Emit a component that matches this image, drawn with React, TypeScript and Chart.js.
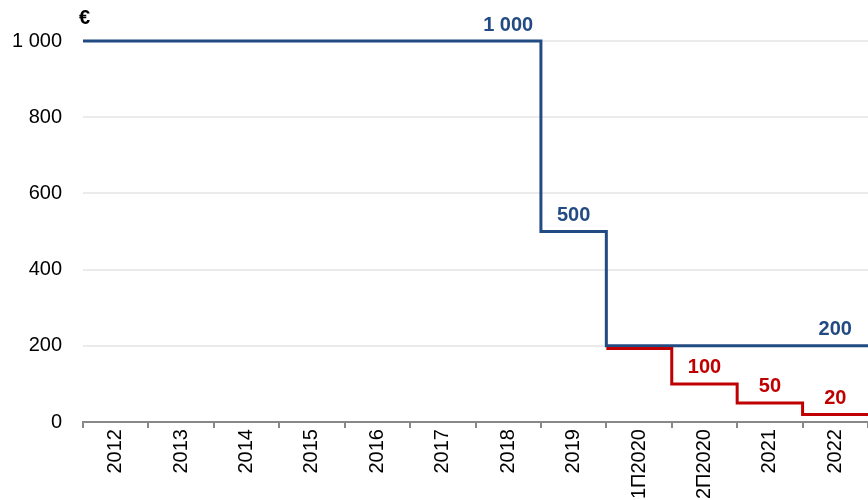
import React, { useEffect, useRef } from "react";
import { Chart, registerables } from "chart.js";

Chart.register(...registerables);

const categories = ["2012", "2013", "2014", "2015", "2016", "2017", "2018", "2019", "1П2020", "2П2020", "2021", "2022"];
const blueValues: (number | null)[] = [1000, 1000, 1000, 1000, 1000, 1000, 1000, 500, 200, 200, 200, 200];
const redValues: (number | null)[] = [null, null, null, null, null, null, null, null, 193, 100, 50, 20];
const blueLabels: (string | null)[] = [null, null, null, null, null, null, "1 000", "500", null, null, null, "200"];
const redLabels: (string | null)[] = [null, null, null, null, null, null, null, null, null, "100", "50", "20"];
const yTicks = [0, 200, 400, 600, 800, 1000];

const BLUE = "#234b83";
const RED = "#c00000";
const FONT = "'Liberation Sans', Arial, sans-serif";

function stepPoints(values: (number | null)[]) {
  const pts: { x: number; y: number }[] = [];
  let last: number | null = null;
  values.forEach((v, i) => {
    if (v !== null) {
      pts.push({ x: i, y: v });
      last = v;
    }
  });
  if (last !== null) pts.push({ x: values.length, y: last });
  return pts;
}

const fmt = (v: number) => String(v).replace(/\B(?=(\d{3})+(?!\d))/g, " ");

const labelPlugin = {
  id: "stepLabels",
  afterDatasetsDraw(chart: any) {
    const { ctx, chartArea } = chart;
    const xs = chart.scales.xl;
    const ys = chart.scales.y;
    ctx.save();
    ctx.font = `bold 20px ${FONT}`;
    ctx.textAlign = "center";
    ctx.textBaseline = "middle";
    const draw = (labels: (string | null)[], values: (number | null)[], color: string) => {
      labels.forEach((t, i) => {
        const v = values[i];
        if (!t || v === null) return;
        ctx.fillStyle = color;
        ctx.fillText(t, xs.getPixelForValue(i + 0.5), ys.getPixelForValue(v) - 16);
      });
    };
    draw(blueLabels, blueValues, BLUE);
    draw(redLabels, redValues, RED);
    ctx.fillStyle = "#000";
    ctx.textAlign = "left";
    ctx.textBaseline = "alphabetic";
    ctx.fillText("€", chartArea.left - 4, chartArea.top - 17);
    ctx.restore();
  },
};

export default function App() {
  const ref = useRef<HTMLCanvasElement>(null);
  useEffect(() => {
    if (!ref.current) return;
    const chart = new Chart(ref.current, {
      type: "line",
      data: {
        labels: categories,
        datasets: [
          {
            data: stepPoints(redValues) as any,
            xAxisID: "xl",
            borderColor: RED,
            borderWidth: 3,
            stepped: true,
            pointRadius: 0,
            fill: false,
            clip: 6,
          },
          {
            data: stepPoints(blueValues) as any,
            xAxisID: "xl",
            borderColor: BLUE,
            borderWidth: 3,
            stepped: true,
            pointRadius: 0,
            fill: false,
            clip: 6,
          },
        ],
      },
      options: {
        animation: false,
        responsive: true,
        maintainAspectRatio: false,
        layout: { padding: { left: 12, top: 41, right: 0, bottom: 0 } },
        plugins: { legend: { display: false }, tooltip: { enabled: false } },
        scales: {
          xl: {
            type: "linear",
            display: false,
            min: 0,
            max: categories.length,
          },
          x: {
            type: "category",
            offset: true,
            grid: { offset: true, drawOnChartArea: false, color: "#888", lineWidth: 2, tickLength: 6 },
            border: { color: "#888", width: 2 },
            ticks: {
              font: { family: FONT, size: 20 },
              color: "#000",
              minRotation: 90,
              maxRotation: 90,
              autoSkip: false,
              padding: 1,
            },
            afterFit: (s: any) => {
              s.paddingLeft = 0;
              s.paddingRight = 0;
            },
          },
          y: {
            min: 0,
            max: 1000,
            afterBuildTicks: (s: any) => {
              s.ticks = yTicks.map((v) => ({ value: v }));
            },
            afterFit: (s: any) => {
              s.width = 71;
            },
            grid: { color: "#ebebeb", lineWidth: 2, drawTicks: false },
            border: { display: false },
            ticks: {
              font: { family: FONT, size: 20 },
              color: "#000",
              padding: 21,
              callback: (v: any) => fmt(Number(v)),
            },
          },
        },
      },
      plugins: [labelPlugin],
    });
    return () => chart.destroy();
  }, []);
  return (
    <div style={{ position: "fixed", left: 0, top: 0, width: 868, height: 500 }}>
      <canvas ref={ref} />
    </div>
  );
}
